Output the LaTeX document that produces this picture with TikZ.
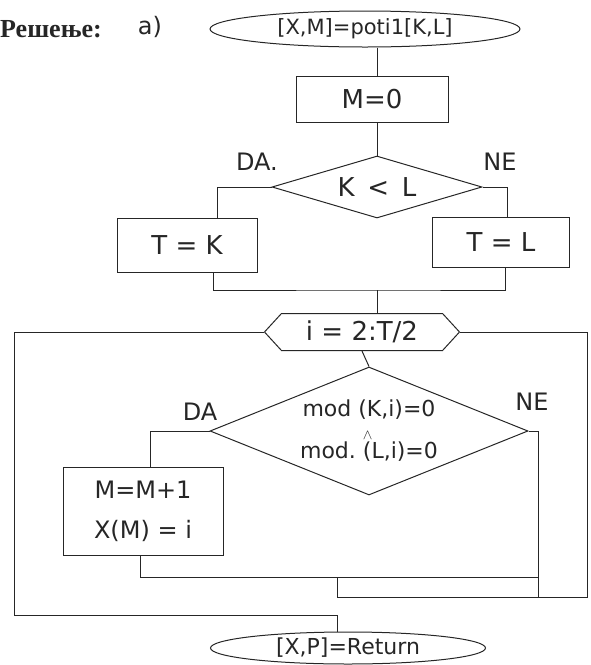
\documentclass[tikz,border=0pt]{standalone}
\usepackage{amsmath}
\usepackage{fontspec}
\setmainfont{Liberation Serif}
\setsansfont{DejaVu Sans}
\usetikzlibrary{positioning,shapes.geometric,shapes.symbols}

\begin{document}
\begin{tikzpicture}[x=1pt,y=-1pt,
  every node/.style={font=\sffamily\fontsize{24}{30}\selectfont,text=black!85},
  wire/.style={draw=black!85,line width=1pt},
  blok/.style={draw=black!85,line width=1pt,rectangle,inner sep=0pt},
  odluka/.style={draw=black!85,line width=1pt,diamond,inner sep=0pt},
  krajnji/.style={draw=black!85,line width=1pt,ellipse,inner sep=0pt},
  petlja/.style={draw=black!85,line width=1pt,signal,signal to=west and east,signal pointer angle=95,inner sep=0pt}]
\useasboundingbox (0,0) rectangle (590,665);
% heading
\node[anchor=base west,inner sep=0pt,font=\rmfamily\bfseries\fontsize{26}{30}\selectfont] (naslov) at (0,37) {Решење:};
\node (oznaka) at (150,27) {a)};
% start, M=0, first test
\node[krajnji,minimum width=310pt,minimum height=36pt,font=\sffamily\fontsize{21}{25}\selectfont] (start) at (365,29) {[X,M]=poti1[K,L]};
\node[blok,minimum width=152pt,minimum height=46pt,font=\sffamily\fontsize{26}{30}\selectfont] (nula) at (372,99) {M=0};
\node[odluka,aspect=3,minimum width=210pt,minimum height=62pt,font=\sffamily\fontsize{26}{30}\selectfont] (kl) at (377,187) {K\ \,<\ \,L};
\node (da1) at (257,162) {DA.};
\node (ne1) at (500,162) {NE};
\node[blok,minimum width=140pt,minimum height=54pt,font=\sffamily\fontsize{26}{30}\selectfont] (tk) at (187,245) {T = K};
\node[blok,minimum width=137pt,minimum height=50pt,font=\sffamily\fontsize{26}{30}\selectfont] (tl) at (501,242) {T = L};
\coordinate (spoj) at (377,290);
% loop over i
\node[petlja,minimum width=195pt,minimum height=37pt,font=\sffamily\fontsize{26}{30}\selectfont] (for) at (362,332) {i = 2:T/2};
\node[odluka,aspect=2.5,minimum width=318pt,minimum height=128pt,align=center,font=\sffamily\fontsize{22}{42}\selectfont] (mod) at (369,431)
  {mod (K,i)=0\\mod.\ \rlap{\raisebox{19pt}{$\scriptstyle\wedge$}}(L,i)=0};
\node (da2) at (200,412) {DA};
\node (ne2) at (532,402) {NE};
\node[blok,minimum width=160pt,minimum height=88pt,align=center,font=\sffamily\fontsize{24}{40}\selectfont] (inc) at (143,511) {M=M+1\\X(M) = i};
\coordinate (spoj2) at (538,577);
\coordinate (povrat) at (337,577);
\coordinate (desno) at (587,597);
\coordinate (lijevo) at (14,615);
% end
\node[krajnji,minimum width=275pt,minimum height=32pt,font=\sffamily\fontsize{22}{26}\selectfont] (kraj) at (348,648) {[X,P]=Return};

\draw[wire] (start.south -| kl.north) -- (nula.north -| kl.north);
\draw[wire] (nula.south -| kl.north) -- (kl.north);
\draw[wire] (kl.west) -| ([xshift=30pt]tk.north);
\draw[wire] (kl.east) -| ([xshift=6pt]tl.north);
\draw[wire] ([xshift=26pt]tk.south) |- (spoj) -| ([xshift=4pt]tl.south);
\draw[wire] (spoj) -- (spoj |- for.north);
\draw[wire] (for.south) -- (mod.north);
\draw[wire] (mod.west) -| ([xshift=7pt]inc.north);
\draw[wire] ([xshift=-3pt]inc.south) |- (spoj2);
\draw[wire] (mod.east) -| (desno -| spoj2);
\draw[wire] (povrat) |- (desno) |- (for.east);
\draw[wire] (for.west) -| (lijevo) -| ([xshift=-11pt]kraj.north);
\end{tikzpicture}
\end{document}
